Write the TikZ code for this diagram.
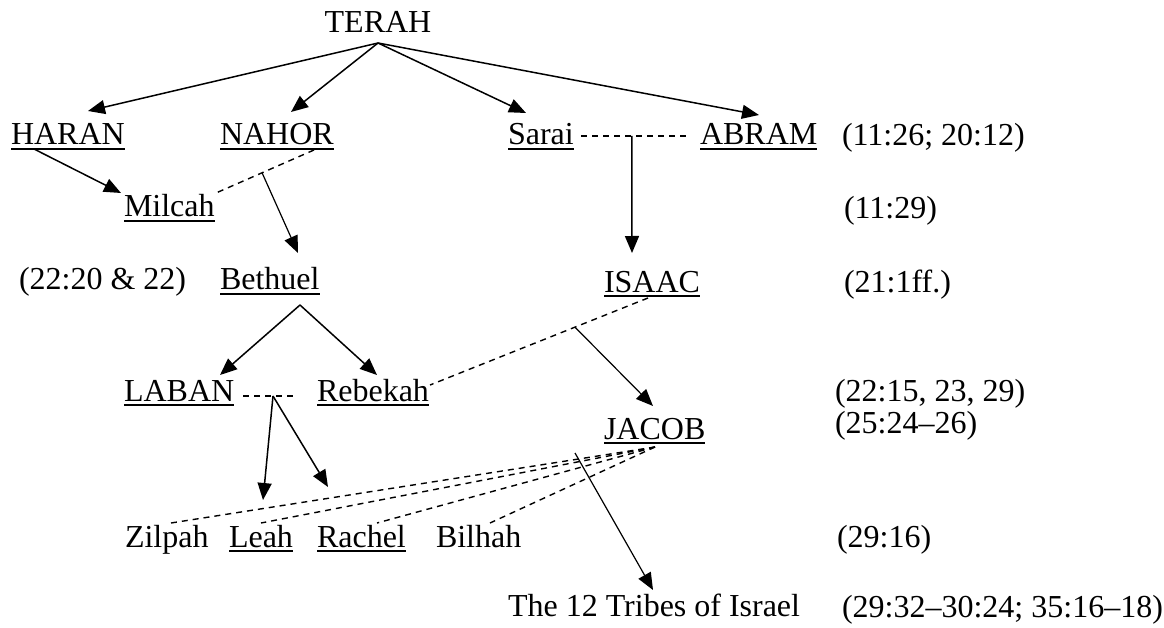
\documentclass[tikz,border=0pt]{standalone}
\usepackage{fontspec}
\setmainfont{Liberation Serif}
\usetikzlibrary{arrows.meta,calc}
\tikzset{
  lbl/.style={inner sep=0pt, outer sep=0pt, anchor=base west, font=\fontsize{32}{38}\selectfont},
  tight/.style={text height=22pt, text depth=5pt},
  ulline/.style={line width=1.8pt},
  arr/.style={line width=1.5pt, -{Triangle[length=17pt,width=14pt]}},
  arrthin/.style={line width=1.2pt, -{Triangle[length=17pt,width=14pt]}},
  marr/.style={line width=1.4pt, dash pattern=on 6pt off 5pt},
}
\begin{document}
\begin{tikzpicture}[x=1pt,y=-1pt]
\useasboundingbox (0,0) rectangle (1164,628);
% names
\node[lbl, anchor=base] (terah) at (378,33) {TERAH};
\node[lbl] (haran) at (11,145) {HARAN};
\node[lbl] (nahor) at (220,145) {NAHOR};
\node[lbl] (sarai) at (508,145) {Sarai};
\node[lbl] (abram) at (700,145) {ABRAM};
\node[lbl] (r1) at (842,146) {(11:26; 20:12)};
\node[lbl] (milcah) at (124,217) {Milcah};
\node[lbl] (r2) at (844,219) {(11:29)};
\node[lbl] (r3) at (19,290) {(22:20 \& 22)};
\node[lbl] (bethuel) at (220,290) {Bethuel};
\node[lbl] (isaac) at (604,292) {ISAAC};
\node[lbl] (r4) at (844,292) {(21:1ff.)};
\node[lbl] (laban) at (124,401) {LABAN};
\node[lbl] (rebekah) at (317,401) {Rebekah};
\node[lbl, tight] (r5) at (835,401) {(22:15, 23, 29)};
\node[lbl] (jacob) at (604,439) {JACOB};
\node[lbl, tight] (r6) at (835,433) {(25:24–26)};
\node[lbl] (zilpah) at (125,547) {Zilpah};
\node[lbl] (leah) at (229,547) {Leah};
\node[lbl] (rachel) at (317,547) {Rachel};
\node[lbl] (bilhah) at (436,547) {Bilhah};
\node[lbl] (r7) at (837,547) {(29:16)};
\node[lbl] (tribes) at (508,616) {The 12 Tribes of Israel};
\node[lbl] (r8) at (842,617) {(29:32–30:24; 35:16–18)};
% underlines
\foreach \n in {haran,nahor,sarai,abram,milcah,bethuel,isaac,laban,rebekah,jacob,leah,rachel}
  \draw[ulline] ([yshift=-4pt]\n.base west) -- ([yshift=-4pt]\n.base east);
% connection points
\coordinate (terahB) at (378,43);
\coordinate (haranT) at (88,111);
\coordinate (nahorT) at (291,112);
\coordinate (saraiT) at (526,113);
\coordinate (abramT) at (759,115);
\coordinate (haranB) at (34,149);
\coordinate (milcahT) at (121,193);
\coordinate (nahorB) at (314,150);
\coordinate (milcahR) at (216,193);
\coordinate (bethuelT) at (298,253);
\coordinate (saraiR) at (581,136);
\coordinate (abramL) at (687,136);
\coordinate (isaacT) at (632,253);
\coordinate (bethuelB) at (300,305);
\coordinate (labanT) at (220,375);
\coordinate (rebekahT) at (377,375);
\coordinate (labanR) at (243,396);
\coordinate (rebekahL) at (293,396);
\coordinate (leahT) at (263,500);
\coordinate (rachelT) at (328,487);
\coordinate (isaacB) at (648,298);
\coordinate (rebekahR) at (430,385);
\coordinate (jacobT) at (653,406);
\coordinate (jacobB) at (655,447);
\coordinate (zilpahT) at (171,523);
\coordinate (leahTT) at (261,523);
\coordinate (rachelTT) at (377,523);
\coordinate (bilhahT) at (490,523);
\coordinate (tribesS) at (575,453);
\coordinate (tribesT) at (653,590);
% TERAH's children
\draw[arr] (terahB) -- (haranT);
\draw[arr] (terahB) -- (nahorT);
\draw[arr] (terahB) -- (saraiT);
\draw[arr] (terahB) -- (abramT);
% Haran -> Milcah
\draw[arr] (haranB) -- (milcahT);
% Nahor -- Milcah -> Bethuel
\draw[marr] (nahorB) -- (milcahR);
\draw[arrthin] ($(nahorB)!0.53!(milcahR)$) -- (bethuelT);
% Sarai -- Abram -> Isaac
\draw[marr] (saraiR) -- (abramL);
\draw[arr] ($(saraiR)!0.48!(abramL)$) -- (isaacT);
% Bethuel -> Laban, Rebekah
\draw[arr] (bethuelB) -- (labanT);
\draw[arr] (bethuelB) -- (rebekahT);
% Laban -> Leah, Rachel
\draw[marr] (labanR) -- (rebekahL);
\draw[arr] ($(labanR)!0.6!(rebekahL)$) -- (leahT);
\draw[arr] ($(labanR)!0.6!(rebekahL)$) -- (rachelT);
% Isaac -- Rebekah -> Jacob
\draw[marr] (isaacB) -- (rebekahR);
\draw[arrthin] ($(isaacB)!0.335!(rebekahR)$) -- (jacobT);
% Jacob's wives
\draw[marr] (jacobB) -- (zilpahT);
\draw[marr] (jacobB) -- (leahTT);
\draw[marr] (jacobB) -- (rachelTT);
\draw[marr] (jacobB) -- (bilhahT);
\draw[arrthin] (tribesS) -- (tribesT);
\end{tikzpicture}
\end{document}
